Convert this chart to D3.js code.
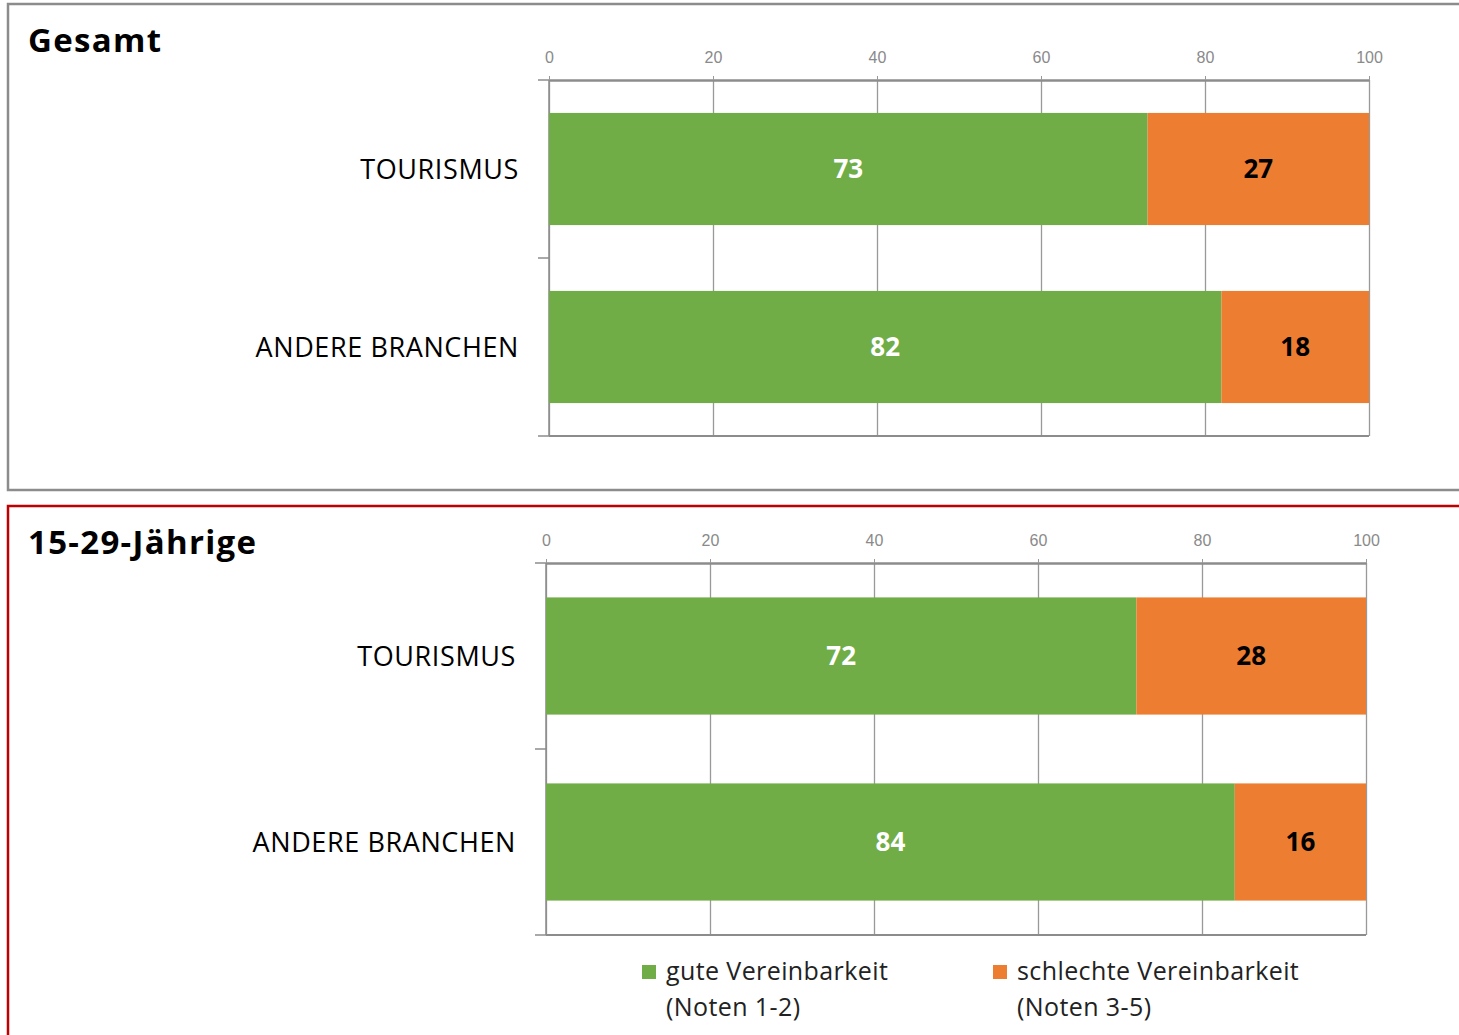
<!DOCTYPE html>
<html><head><meta charset="utf-8">
<script src="https://cdn.jsdelivr.net/npm/d3@7"></script>
<style>
body{margin:0;background:#fff;}
svg{display:block;}
</style></head>
<body>
<svg id="c" width="1459" height="1035"></svg>
<script>
const panelTitles = ["Gesamt", "15-29-Jährige"];
const categories = ["TOURISMUS", "ANDERE BRANCHEN"];
const goodValues = [[73, 82], [72, 84]];
const badValues = [[27, 18], [28, 16]];
const xTicks = [0, 20, 40, 60, 80, 100];
const legendLabels = [["gute Vereinbarkeit", "(Noten 1-2)"], ["schlechte Vereinbarkeit", "(Noten 3-5)"]];

const GREEN = "#70AD47", ORANGE = "#ED7D31", GRID = "#999";
const svg = d3.select("#c");
const labelFont = "'Open Sans', sans-serif";

const frames = [
  {x: 8, y: 4, w: 1460, h: 486, stroke: "#8c8c8c"},
  {x: 8, y: 506, w: 1460, h: 540, stroke: "#c00000"}
];
const plots = [
  {x0: 549, x1: 1369, y0: 80, y1: 436},
  {x0: 546, x1: 1366, y0: 563, y1: 935}
];

frames.forEach((f, i) => {
  svg.append("rect").attr("x", f.x).attr("y", f.y).attr("width", f.w).attr("height", f.h)
    .attr("fill", "none").attr("stroke", f.stroke).attr("stroke-width", 2.5);
  svg.append("text").attr("x", 28).attr("y", f.y + 48).text(panelTitles[i])
    .attr("font-family", labelFont).attr("font-weight", "bold").attr("font-size", 33)
    .attr("letter-spacing", 1.3).attr("fill", "#000");
});

plots.forEach((p, i) => {
  const g = svg.append("g");
  const x = d3.scaleLinear().domain([0, 100]).range([p.x0, p.x1]);
  const y = d3.scaleBand().domain(categories).range([p.y0, p.y1]).paddingInner(0.37).paddingOuter(0.185);
  const yb = d3.scaleBand().domain(categories).range([p.y0, p.y1]);

  const grid = g.append("g").attr("transform", `translate(0,${p.y0})`)
    .call(d3.axisBottom(x).tickValues(xTicks).tickSize(p.y1 - p.y0).tickFormat(""));
  grid.select(".domain").remove();
  grid.selectAll("line").attr("stroke", GRID).attr("stroke-width", 1.3);

  g.append("line").attr("x1", p.x0).attr("x2", p.x1).attr("y1", p.y1).attr("y2", p.y1)
    .attr("stroke", "#8c8c8c").attr("stroke-width", 2);
  g.append("line").attr("x1", p.x0).attr("x2", p.x0).attr("y1", p.y0).attr("y2", p.y1)
    .attr("stroke", "#8c8c8c").attr("stroke-width", 1.5);

  const ax = g.append("g").attr("transform", `translate(0,${p.y0})`)
    .call(d3.axisTop(x).tickValues(xTicks).tickSize(4).tickSizeOuter(0).tickPadding(13));
  ax.select(".domain").attr("stroke", "#8c8c8c").attr("stroke-width", 2.5);
  ax.selectAll("line").attr("stroke", GRID);
  ax.selectAll("text").attr("font-family", "'Liberation Sans Narrow', 'Arial Narrow', sans-serif")
    .attr("font-size", 16).attr("fill", "#8a8a8a");

  const bounds = [p.y0, p.y0 + yb.bandwidth(), p.y1];
  g.selectAll(".lt").data(bounds).join("line")
    .attr("x1", p.x0 - 11).attr("x2", p.x0).attr("y1", d => d).attr("y2", d => d)
    .attr("stroke", "#8c8c8c").attr("stroke-width", 1.5);

  categories.forEach((c, j) => {
    const gv = goodValues[i][j], bv = badValues[i][j];
    g.append("rect").attr("x", x(0)).attr("y", y(c)).attr("width", x(gv) - x(0)).attr("height", y.bandwidth()).attr("fill", GREEN);
    g.append("rect").attr("x", x(gv)).attr("y", y(c)).attr("width", x(gv + bv) - x(gv)).attr("height", y.bandwidth()).attr("fill", ORANGE);
    const cy = y(c) + y.bandwidth() / 2;
    g.append("text").attr("x", (x(0) + x(gv)) / 2).attr("y", cy).attr("dy", "0.36em").attr("text-anchor", "middle")
      .text(gv).attr("font-family", labelFont).attr("font-weight", "bold").attr("font-size", 26).attr("fill", "#fff");
    g.append("text").attr("x", (x(gv) + x(gv + bv)) / 2).attr("y", cy).attr("dy", "0.36em").attr("text-anchor", "middle")
      .text(bv).attr("font-family", labelFont).attr("font-weight", "bold").attr("font-size", 26).attr("fill", "#000");
    g.append("text").attr("x", p.x0 - 30).attr("y", cy).attr("dy", "0.36em").attr("text-anchor", "end")
      .text(c).attr("font-family", labelFont).attr("font-size", 27).attr("letter-spacing", 0.6).attr("fill", "#000");
  });
});

const legendX = [642, 993];
const legendColors = [GREEN, ORANGE];
legendLabels.forEach((lab, k) => {
  svg.append("rect").attr("x", legendX[k]).attr("y", 965).attr("width", 14).attr("height", 14).attr("fill", legendColors[k]);
  lab.forEach((t, r) => {
    svg.append("text").attr("x", legendX[k] + 24).attr("y", 980 + r * 36).text(t)
      .attr("font-family", labelFont).attr("font-size", 25).attr("letter-spacing", 0.4).attr("fill", "#222");
  });
});
</script>
</body></html>
